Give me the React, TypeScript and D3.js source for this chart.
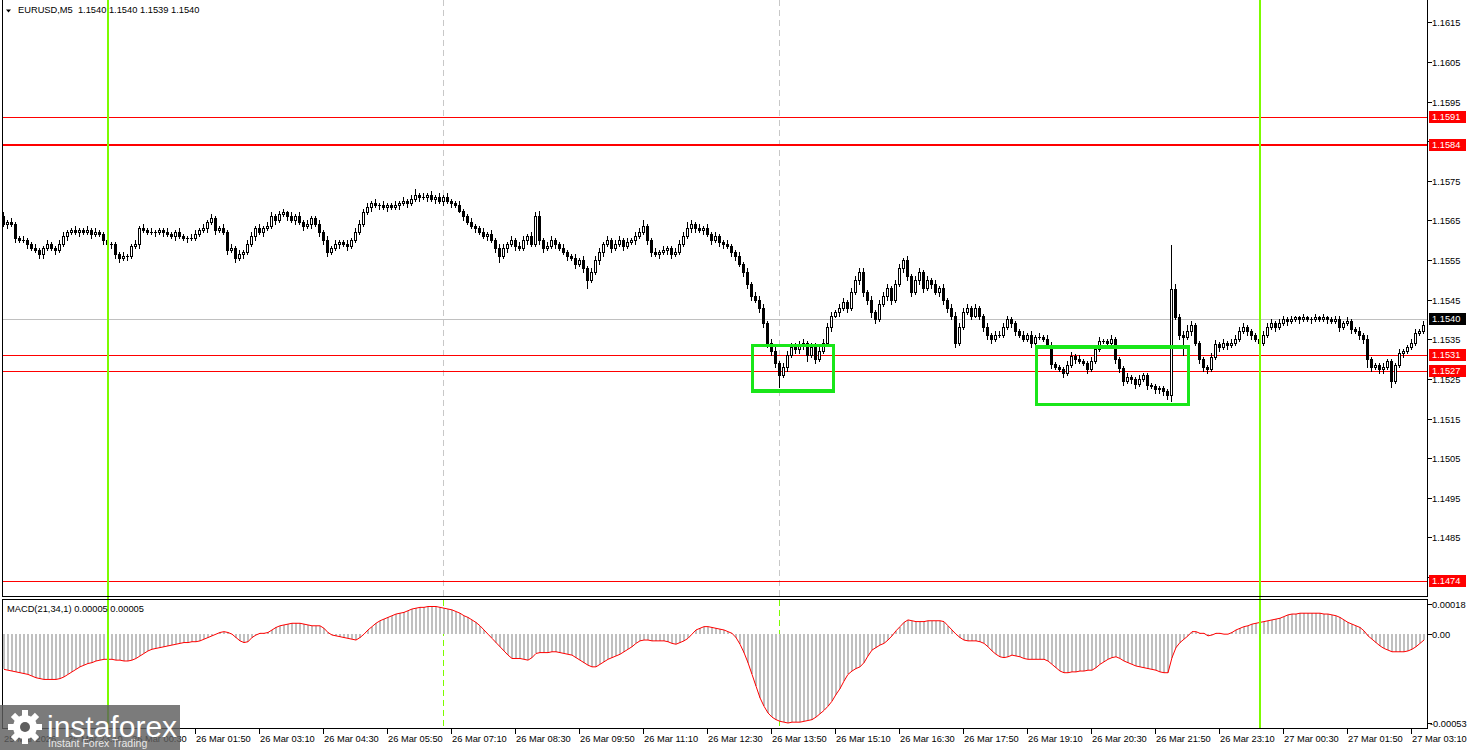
import React, { useEffect, useRef } from 'react';
import * as d3 from 'd3';

// prices are kept in pips above 1.1500, macd in units of 0.00001
const BASE = 1.15;
const FIRST_OPEN = 66;

const closes = [
  /*0*/ 64, 64.5, 64, 60.5, 60, 60, 59, 58, 57.5, 56.5,
  /*10*/ 58, 59, 58, 57.5, 59, 61, 62, 62.5, 62, 62.5,
  /*20*/ 62, 62.5, 61.5, 62, 61.5, 60, 59, 59, 56.5, 55.5,
  /*30*/ 56, 56, 58.5, 59, 63, 62.5, 62, 62, 62, 62.5,
  /*40*/ 62, 61.5, 61, 62, 61, 60.5, 60.5, 60.5, 61.5, 62.5,
  /*50*/ 63, 64.5, 65.5, 62.5, 63, 62, 57.5, 58, 55.5, 56.5,
  /*60*/ 57, 59, 61, 63, 62, 63, 63.5, 66, 65, 66.5,
  /*70*/ 67, 66, 65, 66, 64.5, 63.5, 64, 65.5, 64, 62,
  /*80*/ 60, 57, 58, 59, 59.5, 59, 58.5, 60, 62, 64,
  /*90*/ 67, 68.5, 69.5, 69, 69, 68.5, 69, 68.5, 69, 69.5,
  /*100*/ 70, 69.5, 70.5, 71.5, 71, 71, 71.5, 70.5, 71, 70,
  /*110*/ 71, 70, 69.5, 69, 67.5, 66, 64.5, 63.5, 63, 62,
  /*120*/ 61, 61.5, 60, 58, 56, 58, 59, 60, 58.5, 58,
  /*130*/ 60, 61, 59, 66, 60, 58, 58.5, 60, 59, 58,
  /*140*/ 57, 56, 55.5, 54, 55, 53, 50, 52, 55, 57,
  /*150*/ 59, 60, 58, 59, 60, 58.5, 59.5, 60, 61, 62,
  /*160*/ 63.5, 60, 57, 56.5, 57, 57.5, 58, 56.5, 57, 59,
  /*170*/ 61, 63, 64, 63, 62.5, 63, 61.5, 60, 61, 59.5,
  /*180*/ 59, 58.5, 57, 56, 54, 52, 49, 46, 45, 43,
  /*190*/ 39, 34, 32, 29, 26, 28, 31, 33, 32.5, 33.5,
  /*200*/ 34, 31, 33, 30, 32, 34, 38, 41, 42, 43,
  /*210*/ 44.5, 43, 47, 50, 52, 47, 45, 42, 40, 44,
  /*220*/ 46, 48, 45, 49, 53, 55, 51, 47, 50, 52,
  /*230*/ 48, 50, 49, 47, 48, 45, 43, 41, 34, 38,
  /*240*/ 42, 43, 41, 43, 41, 38, 36, 35, 36, 36,
  /*250*/ 38, 40, 39, 37, 36, 35, 36, 34, 35.5, 35.5,
  /*260*/ 35, 33.4, 28.8, 28, 27.5, 26.5, 28.5, 30.7, 30, 29.5,
  /*270*/ 29, 27.5, 29.5, 32.6, 34.5, 34.5, 34, 35, 30, 27.8,
  /*280*/ 24.5, 25.5, 25, 23.7, 25, 26, 23.5, 23.2, 22.5, 22.8,
  /*290*/ 22, 21, 47.8, 40.5, 36, 35.5, 37, 38.5, 34, 30,
  /*300*/ 28, 27.5, 30.5, 33.8, 33, 34, 33.5, 34, 35, 37,
  /*310*/ 38, 37, 36, 35, 34, 36, 38, 39, 38, 39,
  /*320*/ 40, 39.5, 40, 40.5, 40, 40.5, 40, 40, 40.5, 40,
  /*330*/ 40.5, 40, 39.5, 40, 38, 39, 39.5, 37.5, 37, 36,
  /*340*/ 35, 30, 28, 28.5, 27.5, 28, 29.5, 24.5, 28.5, 31.5,
  /*350*/ 32, 33, 34, 36.5, 37, 38.5,
];

const wickUp = [
  /*0*/ 1, 0.5, 1, 0.5, 0.5, 1, 0.5, 0.5, 1, 0.5,
  /*10*/ 0.5, 1, 0.5, 0.5, 1, 1, 0.5, 0.5, 1, 0.5,
  /*20*/ 0.5, 1, 0.5, 1, 0.5, 0.5, 1, 0.5, 0.5, 0.5,
  /*30*/ 1, 0.5, 0.5, 1, 0.5, 1, 0.5, 1, 0.5, 0.5,
  /*40*/ 0.5, 1, 0.5, 0.5, 1, 0.5, 0.5, 1, 1, 0.5,
  /*50*/ 1, 0.5, 1, 0.5, 0.5, 1, 0.5, 1, 0.5, 1,
  /*60*/ 0.5, 1, 1, 0.5, 1, 0.5, 1, 1, 0.5, 1,
  /*70*/ 1, 0.5, 1, 0.5, 1, 0.5, 1, 0.5, 0.5, 1,
  /*80*/ 0.5, 1, 0.5, 1, 0.5, 0.5, 1, 0.5, 1, 1,
  /*90*/ 1, 1, 0.5, 1, 0.5, 1, 0.5, 0.5, 1, 0.5,
  /*100*/ 1, 0.5, 1, 1.5, 0.5, 1, 0.5, 1, 0.5, 1,
  /*110*/ 0.5, 1, 0.5, 0.5, 1, 0.5, 0.5, 1, 0.5, 0.5,
  /*120*/ 1, 0.5, 1, 0.5, 1, 1, 0.5, 1, 0.5, 1,
  /*130*/ 1, 0.5, 1, 1, 1.5, 0.5, 1, 1, 0.5, 0.5,
  /*140*/ 1, 0.5, 0.5, 1, 0.5, 1, 0.5, 1, 1, 1,
  /*150*/ 0.5, 1, 0.5, 1, 1, 0.5, 1, 0.5, 1, 1,
  /*160*/ 1.5, 0.5, 0.5, 1, 0.5, 1, 0.5, 0.5, 1, 1,
  /*170*/ 1, 1.5, 1, 0.5, 1, 0.5, 1, 0.5, 1, 0.5,
  /*180*/ 0.5, 1, 0.5, 0.5, 1, 0.5, 1, 0.5, 1, 1,
  /*190*/ 1, 0.5, 1, 1, 0.5, 1, 1, 1, 1, 1,
  /*200*/ 1, 0.5, 1, 1, 1, 1, 1, 1, 0.5, 1,
  /*210*/ 1, 0.5, 1, 1, 1, 1, 0.5, 1, 0.5, 1,
  /*220*/ 1, 1, 0.5, 1, 1, 0.5, 1, 0.5, 1, 1,
  /*230*/ 0.5, 1, 0.5, 1, 0.5, 1, 0.5, 1, 1, 1,
  /*240*/ 1, 1, 0.5, 1, 0.5, 0.5, 1, 0.5, 1, 1,
  /*250*/ 1, 1, 0.5, 0.5, 0.5, 1, 0.5, 1, 0.5, 1,
  /*260*/ 0.5, 1, 1, 0.5, 0.5, 0.5, 1, 1, 0.5, 1,
  /*270*/ 0.5, 0.5, 1, 0.5, 1, 0.5, 0.5, 1, 0.5, 0.5,
  /*280*/ 0.5, 1, 0.5, 0.5, 1, 0.5, 0.5, 0.5, 0.5, 0.5,
  /*290*/ 0.5, 0.5, 11, 1.2, 1, 1, 1.5, 1, 0.5, 0.5,
  /*300*/ 0.5, 0.5, 1, 1, 0.5, 1, 0.5, 1, 1, 1,
  /*310*/ 1, 0.5, 0.5, 0.5, 1, 1, 1, 1, 0.5, 1,
  /*320*/ 1, 0.5, 1, 0.5, 0.5, 1, 0.5, 0.5, 1, 0.5,
  /*330*/ 1, 0.5, 0.5, 1, 1, 0.5, 1, 0.5, 0.5, 1,
  /*340*/ 0.5, 1, 0.5, 0.5, 0.5, 1, 0.5, 0.5, 0.5, 1,
  /*350*/ 0.5, 0.5, 1, 1, 0.5, 1,
];

const wickDn = [
  /*0*/ 0.5, 1, 0.5, 1, 0.5, 0.5, 1, 0.5, 0.5, 1,
  /*10*/ 1, 0.5, 0.5, 1, 0.5, 0.5, 1, 0.5, 0.5, 1,
  /*20*/ 0.5, 0.5, 1, 0.5, 0.5, 1, 0.5, 1, 1, 1,
  /*30*/ 0.5, 1, 0.5, 0.5, 1, 0.5, 0.5, 0.5, 1, 0.5,
  /*40*/ 1, 0.5, 0.5, 1, 0.5, 0.5, 1, 0.5, 0.5, 0.5,
  /*50*/ 0.5, 1, 0.5, 1, 0.5, 0.5, 1, 0.5, 1, 0.5,
  /*60*/ 1, 0.5, 0.5, 1, 0.5, 1, 0.5, 0.5, 1, 0.5,
  /*70*/ 0.5, 1, 0.5, 1, 0.5, 1, 0.5, 1, 0.5, 1,
  /*80*/ 1, 1, 0.5, 0.5, 1, 0.5, 1, 0.5, 0.5, 0.5,
  /*90*/ 0.5, 0.5, 1, 0.5, 1, 0.5, 1, 0.5, 0.5, 1,
  /*100*/ 0.5, 1, 0.5, 0.5, 1, 0.5, 1, 0.5, 1, 0.5,
  /*110*/ 1, 0.5, 1, 0.5, 0.5, 1, 0.5, 0.5, 1, 0.5,
  /*120*/ 0.5, 1, 0.5, 1, 1.5, 0.5, 1, 0.5, 1, 0.5,
  /*130*/ 0.5, 1, 0.5, 0.5, 1, 1, 0.5, 0.5, 1, 0.5,
  /*140*/ 0.5, 1, 0.5, 1, 0.5, 1, 2, 0.5, 0.5, 1,
  /*150*/ 1, 0.5, 1, 0.5, 0.5, 1, 0.5, 0.5, 1, 0.5,
  /*160*/ 0.5, 1, 1, 0.5, 1, 0.5, 1, 1, 0.5, 0.5,
  /*170*/ 0.5, 0.5, 1, 1, 0.5, 1, 0.5, 1, 0.5, 1,
  /*180*/ 1, 0.5, 1, 1, 0.5, 1, 1, 1, 0.5, 1,
  /*190*/ 1, 1, 1, 1, 3, 0.5, 1, 0.5, 1, 1,
  /*200*/ 1, 1.5, 0.5, 1, 0.5, 0.5, 0.5, 1, 0.5, 1,
  /*210*/ 0.5, 1, 0.5, 0.5, 1, 1, 1, 1.5, 1, 0.5,
  /*220*/ 0.5, 1, 1, 0.5, 0.5, 1, 1, 1, 0.5, 1,
  /*230*/ 1, 0.5, 1, 0.5, 1, 1, 1, 1, 1, 0.5,
  /*240*/ 0.5, 0.5, 1, 0.5, 1, 1, 1, 1, 0.5, 0.5,
  /*250*/ 0.5, 0.5, 1, 1, 0.5, 0.5, 0.5, 1, 0.5, 0.5,
  /*260*/ 0.5, 0.5, 1, 0.5, 0.5, 1, 0.5, 0.5, 1, 0.5,
  /*270*/ 0.5, 1, 0.5, 0.5, 0.5, 0.5, 1, 0.5, 1, 1,
  /*280*/ 1, 0.5, 1, 1, 0.5, 0.5, 1, 0.5, 1, 1,
  /*290*/ 1, 1, 1.6, 0.5, 1, 4.5, 0.5, 1, 0.5, 1,
  /*300*/ 1, 1, 0.5, 0.5, 1, 0.5, 1, 0.5, 0.5, 0.5,
  /*310*/ 0.5, 1, 1, 0.5, 1, 0.5, 0.5, 0.5, 1, 0.5,
  /*320*/ 0.5, 1, 0.5, 0.5, 1, 0.5, 0.5, 1, 0.5, 0.5,
  /*330*/ 0.5, 1, 0.5, 0.5, 1, 0.5, 0.5, 1, 0.5, 1,
  /*340*/ 1, 2, 1, 0.5, 1, 1, 0.5, 1.5, 0.5, 0.5,
  /*350*/ 1, 0.5, 0.5, 0.5, 0.5, 0.5,
];

const macd = [
  /*0*/ -21, -21.5, -22, -22.5, -23, -23.5, -24, -25, -26, -26.5,
  /*10*/ -27, -27, -27, -27, -26.5, -25.5, -24, -22.5, -21, -19.5,
  /*20*/ -18.5, -17.5, -17, -16, -15.5, -15, -15, -15, -15.5, -15.5,
  /*30*/ -16, -16, -15.5, -14.5, -13, -11.5, -10, -9, -8.5, -8,
  /*40*/ -7.5, -7, -6.5, -6, -5.5, -5, -5, -4.5, -4.5, -4,
  /*50*/ -3, -2, -1, 0, 1, 1.5, 1, 0, -2, -4,
  /*60*/ -5, -4.5, -2, -0.5, 0.5, 0.5, 1, 2.5, 4, 5,
  /*70*/ 5.5, 6, 6.5, 6.5, 6.5, 6, 5.5, 5, 5, 5,
  /*80*/ 3.5, 1, -0.5, -1, -1.5, -2, -2.5, -3, -3.5, -2,
  /*90*/ 0, 2.5, 4.5, 6.5, 8, 9, 10, 11, 12, 12.5,
  /*100*/ 13, 14, 15, 15.5, 16, 16, 16.5, 16.5, 16.5, 16,
  /*110*/ 15.5, 15, 14.5, 13.5, 12.5, 11, 10, 8.5, 7, 5,
  /*120*/ 2.5, 0, -2.5, -5, -7.5, -10, -12.5, -14.5, -14.5, -14.5,
  /*130*/ -15, -15.5, -14, -11.5, -11, -11, -11, -10.5, -10.5, -11,
  /*140*/ -11.5, -12, -12.5, -14, -15.5, -17, -18.5, -19.5, -19.5, -18,
  /*150*/ -16.5, -15, -14, -13, -12, -10.5, -9, -7.5, -5.5, -4,
  /*160*/ -3.5, -3.5, -4, -4, -4, -4, -4.5, -5.5, -6, -5,
  /*170*/ -4, -2.5, 0, 2.5, 3.5, 4.5, 4.5, 4, 3.5, 3,
  /*180*/ 2.5, 1.5, 0.5, -2, -6, -11, -17, -24, -31, -38,
  /*190*/ -43, -47, -49.5, -51, -52, -52.5, -53, -52.5, -52.5, -52.5,
  /*200*/ -52, -51.5, -51, -49.5, -47.5, -45.5, -43, -40, -36, -32.5,
  /*210*/ -28, -24, -22, -20.5, -19.5, -17, -13, -9.5, -8, -6.5,
  /*220*/ -5.5, -3.5, -1, 2, 4.5, 7, 8.5, 8, 7.5, 7.5,
  /*230*/ 7.5, 8, 8, 8, 8, 7.5, 5, 2.5, 0, -2,
  /*240*/ -3.5, -4, -4, -4, -4.5, -5.5, -7.5, -10, -12, -13.5,
  /*250*/ -14, -13.5, -12.5, -13, -13.5, -14.5, -15, -15, -15, -15,
  /*260*/ -15, -16, -18, -20, -22, -23, -23, -22.5, -22.5, -22,
  /*270*/ -22, -21.5, -21.5, -20, -18, -16.5, -15, -14, -13.5, -14.5,
  /*280*/ -16, -17, -18, -19, -19.5, -20, -20.5, -21, -21.5, -22.5,
  /*290*/ -23, -23, -14, -8, -5, -3, -1, 1.5, 1.5, 0.5,
  /*300*/ 0.5, -1, -0.5, 0.5, 0.5, 0, 0, 1, 2.5, 3.5,
  /*310*/ 4.5, 5, 6, 6.5, 7, 7.5, 8, 8.5, 9, 9.5,
  /*320*/ 10.5, 11.5, 12, 12, 12.5, 12.5, 12.5, 12.5, 12.5, 12.5,
  /*330*/ 12, 12, 11.5, 11, 10, 8.5, 7, 6, 5, 4,
  /*340*/ 2, -1, -3, -5, -7, -8.5, -9.5, -10.5, -10.5, -10.5,
  /*350*/ -10.5, -10, -9, -7.5, -5.5, -3.5,
];

const timeLabels = [
  '25 Mar 2026', '25 Mar 23:10', '26 Mar 00:30', '26 Mar 01:50', '26 Mar 03:10',
  '26 Mar 04:30', '26 Mar 05:50', '26 Mar 07:10', '26 Mar 08:30', '26 Mar 09:50',
  '26 Mar 11:10', '26 Mar 12:30', '26 Mar 13:50', '26 Mar 15:10', '26 Mar 16:30',
  '26 Mar 17:50', '26 Mar 19:10', '26 Mar 20:30', '26 Mar 21:50', '26 Mar 23:10',
  '27 Mar 00:30', '27 Mar 01:50', '27 Mar 03:10',
];
const LABEL_STEP = 16; // bars between time labels

const priceTicks = [1.1615, 1.1605, 1.1595, 1.1585, 1.1575, 1.1565, 1.1555, 1.1545, 1.1535, 1.1525, 1.1515, 1.1505, 1.1495, 1.1485, 1.1475];
const macdTicks = [
  { v: 0.00018, label: '0.00018' },
  { v: 0, label: '0.00' },
  { v: -0.00053, label: '-0.00053' },
];

const levelLines = [
  { price: 1.1591, width: 1 },
  { price: 1.1584, width: 2 },
  { price: 1.1531, width: 1 },
  { price: 1.1527, width: 1 },
  { price: 1.1474, width: 1 },
];
const BID = 1.154;

const dayLines = [26, 314];
const dashLines = [110, 194];
const boxes = [
  { from: 187, to: 208, top: 1.15334, bottom: 1.1522 },
  { from: 258, to: 296.75, top: 1.1533, bottom: 1.15185 },
];

const W = 1468;
const H = 750;
const AXIS_X = 1427.5;
const MAIN = { top: 0, bottom: 596.5 };
const SUB = { top: 599.5, bottom: 728.5 };
const FONT = "'Liberation Sans', Arial, sans-serif";
const FS = 9.3;

export default function App() {
  const svgRef = useRef<SVGSVGElement | null>(null);

  useEffect(() => {
    if (!svgRef.current) return;
    const svg = d3.select(svgRef.current);
    svg.selectAll('*').remove();

    const x = d3.scaleLinear().domain([0, 1]).range([3, 7]);
    const y = d3.scaleLinear().domain([1.1615, 1.1474]).range([22.3, 581]);
    const ym = d3.scaleLinear().domain([0.00018, -0.00053]).range([604, 723]);
    const px = (i: number) => Math.round(x(i));

    svg.append('rect').attr('width', W).attr('height', H).attr('fill', '#fff');

    const defs = svg.append('defs');
    defs.append('clipPath').attr('id', 'clipMain')
      .append('rect').attr('x', 3).attr('y', MAIN.top).attr('width', AXIS_X - 3).attr('height', MAIN.bottom - MAIN.top);
    defs.append('clipPath').attr('id', 'clipSub')
      .append('rect').attr('x', 3).attr('y', SUB.top).attr('width', AXIS_X - 3).attr('height', SUB.bottom - SUB.top);

    const main = svg.append('g').attr('clip-path', 'url(#clipMain)').attr('shape-rendering', 'crispEdges');
    const sub = svg.append('g').attr('clip-path', 'url(#clipSub)').attr('shape-rendering', 'crispEdges');

    // dashed day separators
    dashLines.forEach(i => {
      [main, sub].forEach((g, k) => {
        g.append('line')
          .attr('x1', px(i) + 0.5).attr('x2', px(i) + 0.5)
          .attr('y1', k === 0 ? MAIN.top : SUB.top).attr('y2', k === 0 ? MAIN.bottom : SUB.bottom)
          .attr('stroke', k === 0 ? '#c8c8c8' : '#7cfc00').attr('stroke-dasharray', '6,4');
      });
    });

    // horizontal levels
    main.append('line')
      .attr('x1', 3).attr('x2', AXIS_X).attr('y1', Math.round(y(BID)) + 0.5).attr('y2', Math.round(y(BID)) + 0.5)
      .attr('stroke', '#c0c0c0');
    levelLines.forEach(l => {
      const yy = Math.round(y(l.price)) + (l.width === 1 ? 0.5 : 0);
      main.append('line')
        .attr('x1', 3).attr('x2', AXIS_X).attr('y1', yy).attr('y2', yy)
        .attr('stroke', '#ff0000').attr('stroke-width', l.width);
    });

    // candles
    closes.forEach((c, i) => {
      const o = i === 0 ? FIRST_OPEN : closes[i - 1];
      const hi = Math.max(o, c) + wickUp[i];
      const lo = Math.min(o, c) - wickDn[i];
      const cx = px(i);
      const yTop = Math.round(y(BASE + Math.max(o, c) / 10000));
      const yBot = Math.round(y(BASE + Math.min(o, c) / 10000));
      main.append('line')
        .attr('x1', cx + 0.5).attr('x2', cx + 0.5)
        .attr('y1', Math.round(y(BASE + hi / 10000))).attr('y2', Math.round(y(BASE + lo / 10000)) + 1)
        .attr('stroke', '#000');
      if (yBot - yTop < 1) {
        main.append('line')
          .attr('x1', cx - 1).attr('x2', cx + 2).attr('y1', yTop + 0.5).attr('y2', yTop + 0.5)
          .attr('stroke', '#000');
      } else {
        main.append('rect')
          .attr('x', cx - 0.5).attr('y', yTop + 0.5)
          .attr('width', 2).attr('height', yBot - yTop)
          .attr('fill', c > o ? '#fff' : '#000').attr('stroke', '#000');
      }
    });

    // highlight boxes
    boxes.forEach(b => {
      main.append('rect')
        .attr('x', x(b.from) + 1.5).attr('y', y(b.top))
        .attr('width', x(b.to) - x(b.from) - 3).attr('height', y(b.bottom) - y(b.top))
        .attr('fill', 'none').attr('stroke', '#19e619').attr('stroke-width', 3.5);
    });

    // macd histogram + line
    macd.forEach((v, i) => {
      const a = ym(0);
      const b = ym(v / 100000);
      sub.append('rect')
        .attr('x', px(i)).attr('y', Math.min(a, b)).attr('width', 2).attr('height', Math.abs(a - b))
        .attr('fill', '#c0c0c0');
    });
    sub.append('path')
      .datum(macd)
      .attr('d', d3.line<number>().x((d, i) => px(i) + 1).y(d => ym(d / 100000)))
      .attr('fill', 'none').attr('stroke', '#ff0000').attr('stroke-width', 1)
      .attr('shape-rendering', 'auto');

    // day lines across both panels
    dayLines.forEach(i => {
      svg.append('line')
        .attr('x1', px(i) + 0.5).attr('x2', px(i) + 0.5).attr('y1', 0).attr('y2', SUB.bottom)
        .attr('stroke', '#7cfc00').attr('stroke-width', 2).attr('shape-rendering', 'crispEdges');
    });

    // frames
    const frame = svg.append('g').attr('fill', 'none').attr('stroke', '#000').attr('shape-rendering', 'crispEdges');
    frame.append('rect').attr('x', 2.5).attr('y', -1).attr('width', AXIS_X - 2.5).attr('height', MAIN.bottom + 1);
    frame.append('rect').attr('x', 2.5).attr('y', SUB.top).attr('width', AXIS_X - 2.5).attr('height', SUB.bottom - SUB.top);

    // price axis
    const axis = svg.append('g').attr('font-family', FONT).attr('font-size', FS).attr('fill', '#000');
    const tagged = [...levelLines.map(l => l.price), BID];
    priceTicks.forEach(p => {
      const yy = Math.round(y(p)) + 0.5;
      axis.append('line').attr('x1', AXIS_X).attr('x2', AXIS_X + 4).attr('y1', yy).attr('y2', yy)
        .attr('stroke', '#000').attr('shape-rendering', 'crispEdges');
      // labels sitting right under a price tag are hidden by it
      if (tagged.some(t => Math.abs(y(t) - y(p)) < 6)) return;
      axis.append('text').attr('x', 1432).attr('y', yy).attr('dy', '0.35em').text(p.toFixed(4));
    });
    macdTicks.forEach(t => {
      const yy = Math.round(ym(t.v)) + 0.5;
      axis.append('line').attr('x1', AXIS_X).attr('x2', AXIS_X + 4).attr('y1', yy).attr('y2', yy)
        .attr('stroke', '#000').attr('shape-rendering', 'crispEdges');
      axis.append('text').attr('x', t.v < 0 ? 1430 : 1432).attr('y', yy).attr('dy', '0.35em').text(t.label);
    });

    // price tags
    const tag = (p: number, bg: string) => {
      const yy = Math.round(y(p));
      axis.append('rect').attr('x', 1429).attr('y', yy - 6).attr('width', 37).attr('height', 12).attr('fill', bg);
      axis.append('text').attr('x', 1432).attr('y', yy).attr('dy', '0.35em').attr('fill', '#fff').text(p.toFixed(4));
    };
    levelLines.forEach(l => tag(l.price, '#ff0000'));
    tag(BID, '#000');

    // time axis
    timeLabels.forEach((lab, j) => {
      const xx = px(j * LABEL_STEP);
      if (j > 0) {
        axis.append('line').attr('x1', xx + 0.5).attr('x2', xx + 0.5).attr('y1', SUB.bottom).attr('y2', SUB.bottom + 5)
          .attr('stroke', '#000').attr('shape-rendering', 'crispEdges');
      }
      axis.append('text').attr('x', j === 0 ? 4 : xx + 1).attr('y', 742).text(lab);
    });

    // titles
    svg.append('path').attr('d', 'M6,9.5 L11,9.5 L8.5,12.5 Z').attr('fill', '#000');
    svg.append('text').attr('x', 18).attr('y', 13).attr('font-family', FONT).attr('font-size', FS)
      .attr('xml:space', 'preserve').text('EURUSD,M5  1.1540 1.1540 1.1539 1.1540');
    svg.append('text').attr('x', 7).attr('y', 612).attr('font-family', FONT).attr('font-size', FS)
      .text('MACD(21,34,1) 0.00005 0.00005');

    // watermark
    const logo = svg.append('g');
    logo.append('rect').attr('x', 0).attr('y', 705).attr('width', 180).attr('height', 45)
      .attr('fill', '#5e5e5e').attr('opacity', 0.82);
    const gear = logo.append('g').attr('transform', 'translate(25,727)').attr('fill', '#fff');
    d3.range(8).forEach(k => {
      gear.append('rect').attr('x', -3).attr('y', -17).attr('width', 6).attr('height', 8)
        .attr('transform', `rotate(${k * 45})`);
    });
    gear.append('circle').attr('r', 12);
    gear.append('circle').attr('r', 5).attr('fill', '#5e5e5e');
    logo.append('text').attr('x', 47).attr('y', 737).attr('font-family', FONT).attr('font-size', 30)
      .attr('fill', '#fff').text('instaforex');
    logo.append('text').attr('x', 48).attr('y', 747).attr('font-family', FONT).attr('font-size', 10.5)
      .attr('fill', '#e8e8e8').text('Instant Forex Trading');
  }, []);

  return (
    <div style={{ position: 'absolute', left: 0, top: 0 }}>
      <svg ref={svgRef} width={W} height={H} />
    </div>
  );
}
